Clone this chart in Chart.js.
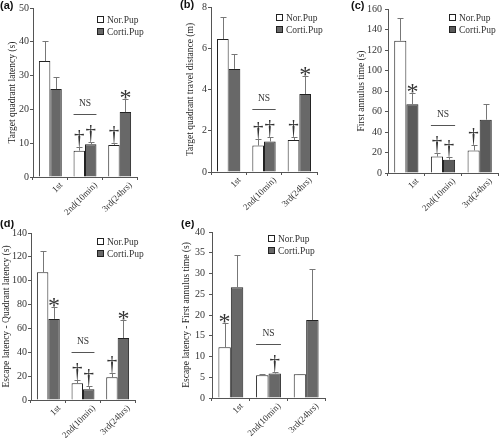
<!DOCTYPE html>
<html>
<head>
<meta charset="utf-8">
<script src="https://cdn.jsdelivr.net/npm/chart.js@4.4.1/dist/chart.umd.min.js"></script>
<style>
  body { margin: 0; background: #fff; }
  #wrap { position: relative; width: 500px; height: 438px; }
  canvas { position: absolute; }
</style>
</head>
<body>
<div id="wrap">
  <canvas id="pa" width="165" height="220" style="left:0;top:0"></canvas>
  <canvas id="pb" width="165" height="220" style="left:165px;top:0"></canvas>
  <canvas id="pc" width="170" height="220" style="left:330px;top:0"></canvas>
  <canvas id="pd" width="165" height="218" style="left:0;top:220px"></canvas>
  <canvas id="pe" width="170" height="218" style="left:165px;top:220px"></canvas>
</div>
<script>
const categories = ["1st", "2nd(10min)", "3rd(24hrs)"];
const seriesNames = ["Nor.Pup", "Corti.Pup"];

// (a) Target quadrant latency
const norA = [34.3, 7.8, 9.5];
const norErrA = [5.9, 1.2, 0.7];
const cortiA = [26.0, 9.7, 19.2];
const cortiErrA = [3.5, 0.8, 3.8];
const norMarkA = ["", "†", "†"];
const cortiMarkA = ["", "†", "*"];
const ticksA = [0, 10, 20, 30, 40, 50];

// (b) Target quadrant travel distance
const norB = [6.45, 1.28, 1.55];
const norErrB = [1.05, 0.3, 0.17];
const cortiB = [5.0, 1.48, 3.78];
const cortiErrB = [0.72, 0.24, 0.87];
const norMarkB = ["", "†", "†"];
const cortiMarkB = ["", "†", "*"];
const ticksB = [0, 2, 4, 6, 8];

// (c) First annulus time
const norC = [129, 16, 22];
const norErrC = [22, 4, 5];
const cortiC = [67, 13, 52];
const cortiErrC = [11, 3, 15];
const norMarkC = ["", "†", "†"];
const cortiMarkC = ["*", "†", ""];
const ticksC = [0, 20, 40, 60, 80, 100, 120, 140, 160];

// (d) Escape latency - Quadrant latency
const norD = [107, 14, 19];
const norErrD = [18, 3, 4];
const cortiD = [68, 9, 52];
const cortiErrD = [10, 2.5, 15];
const norMarkD = ["", "†", "†"];
const cortiMarkD = ["*", "†", "*"];
const ticksD = [0, 20, 40, 60, 80, 100, 120, 140];

// (e) Escape latency - First annulus time
const norE = [12.2, 5.5, 5.7];
const norErrE = [5.8, 0.2, 0.2];
const cortiE = [26.7, 5.9, 18.8];
const cortiErrE = [7.8, 0.3, 12.2];
const norMarkE = ["*", "", ""];
const cortiMarkE = ["", "†", ""];
const ticksE = [0, 5, 10, 15, 20, 25, 30, 35, 40];

const SERIF = '"Liberation Serif", "Times New Roman", serif';
const FS = 9.5;

// error bars, significance marks, NS bracket, legend and panel letter
const marksPlugin = {
  id: "marks",
  afterDatasetsDraw(chart, args, o) {
    const ctx = chart.ctx;
    const y = chart.scales.y;
    const area = chart.chartArea;
    ctx.save();
    let nsTop = Infinity, nsL = Infinity, nsR = -Infinity;
    chart.data.datasets.forEach((ds, di) => {
      const meta = chart.getDatasetMeta(di);
      meta.data.forEach((bar, i) => {
        const top = Math.round(y.getPixelForValue(ds.data[i] + ds.err[i]));
        const x = Math.round(bar.x) + 0.5;
        ctx.strokeStyle = "#777";
        ctx.lineWidth = 1;
        ctx.beginPath();
        ctx.moveTo(x, bar.y);
        ctx.lineTo(x, top);
        ctx.moveTo(x - 3, top + 0.5);
        ctx.lineTo(x + 3, top + 0.5);
        ctx.stroke();
        const m = ds.marks[i];
        ctx.fillStyle = "#333";
        ctx.textAlign = "center";
        ctx.textBaseline = "alphabetic";
        if (m === "†") {
          ctx.font = "21px " + SERIF;
          ctx.fillText(m, bar.x, top - 3);
        } else if (m === "*") {
          ctx.font = "24px " + SERIF;
          ctx.fillText(m, bar.x, top + 6);
        }
        if (i === 1) {
          nsTop = Math.min(nsTop, top);
          nsL = Math.min(nsL, bar.x - bar.width / 2);
          nsR = Math.max(nsR, bar.x + bar.width / 2);
        }
      });
    });
    // NS bracket over the 2nd trial
    const ly = Math.round(nsTop - 28) + 0.5;
    ctx.strokeStyle = "#555";
    ctx.beginPath();
    ctx.moveTo(nsL, ly);
    ctx.lineTo(nsR, ly);
    ctx.stroke();
    ctx.fillStyle = "#333";
    ctx.font = FS + "px " + SERIF;
    ctx.textAlign = "center";
    ctx.textBaseline = "middle";
    ctx.fillText("NS", (nsL + nsR) / 2, ly - 11);

    // legend
    const lx = area.right - o.legendRight;
    chart.data.datasets.forEach((ds, di) => {
      const ry = area.top + o.legendTop + di * 12;
      ctx.fillStyle = ds.backgroundColor;
      ctx.fillRect(lx, ry - 3, 7, 7);
      ctx.strokeStyle = "#222";
      ctx.strokeRect(lx + 0.5, ry - 2.5, 6, 6);
      ctx.fillStyle = "#333";
      ctx.font = FS + "px " + SERIF;
      ctx.textAlign = "left";
      ctx.textBaseline = "middle";
      ctx.fillText(ds.label, lx + 10, ry + 1);
    });

    // panel letter
    ctx.fillStyle = "#111";
    ctx.font = 'bold 11px "Liberation Sans", Arial, sans-serif';
    ctx.textAlign = "left";
    ctx.textBaseline = "middle";
    ctx.fillText(o.letter, o.letterX, o.letterY);
    ctx.restore();
  }
};

function makePanel(id, p) {
  const canvas = document.getElementById(id);
  const W = canvas.width, H = canvas.height;
  return new Chart(canvas, {
    type: "bar",
    data: {
      labels: categories,
      datasets: [
        { label: seriesNames[0], data: p.nor, err: p.norErr, marks: p.norMark,
          backgroundColor: "#ffffff", borderColor: "#222", borderWidth: 1 },
        { label: seriesNames[1], data: p.corti, err: p.cortiErr, marks: p.cortiMark,
          backgroundColor: p.gray, borderColor: "#222", borderWidth: 1 }
      ]
    },
    options: {
      responsive: false,
      animation: false,
      events: [],
      layout: { padding: { left: 0, top: p.top, right: W - p.right, bottom: 0 } },
      datasets: { bar: { categoryPercentage: 0.66, barPercentage: 1.0 } },
      plugins: {
        legend: { display: false },
        tooltip: { enabled: false },
        marks: { letter: p.letter, letterX: p.letterX, letterY: p.letterY,
                 legendRight: p.legendRight, legendTop: p.legendTop }
      },
      scales: {
        x: {
          grid: { drawOnChartArea: false, tickLength: 3, color: "#555" },
          border: { color: "#555" },
          ticks: { autoSkip: false, maxRotation: 45, minRotation: 45, padding: 0,
                   labelOffset: 11, color: "#333", font: { family: SERIF, size: 9 } },
          afterFit: s => { s.height = H - p.bottom; }
        },
        y: {
          min: p.ticks[0],
          max: p.ticks[p.ticks.length - 1],
          afterBuildTicks: s => { s.ticks = p.ticks.map(v => ({ value: v })); },
          grid: { drawOnChartArea: false, tickLength: 3, color: "#555" },
          border: { color: "#555" },
          ticks: { padding: p.tickPad, color: "#333", font: { family: SERIF, size: 10 } },
          title: { display: true, text: p.title, color: "#222",
                   font: { family: SERIF, size: FS }, padding: { top: p.titlePad, bottom: 0 } },
          afterFit: s => { s.width = p.left; }
        }
      }
    },
    plugins: [marksPlugin]
  });
}

makePanel("pa", { nor: norA, norErr: norErrA, corti: cortiA, cortiErr: cortiErrA,
  norMark: norMarkA, cortiMark: cortiMarkA, ticks: ticksA, gray: "#686868",
  title: "Target quadrant latency (s)", titlePad: 7, tickPad: 1,
  left: 33, right: 137, top: 8, bottom: 177,
  letter: "(a)", letterX: 0, letterY: 6, legendRight: 40, legendTop: 11 });

makePanel("pb", { nor: norB, norErr: norErrB, corti: cortiB, cortiErr: cortiErrB,
  norMark: norMarkB, cortiMark: cortiMarkB, ticks: ticksB, gray: "#686868",
  title: "Target quadrant travel distance (m)", titlePad: 20, tickPad: 1,
  left: 46, right: 152, top: 5, bottom: 172,
  letter: "(b)", letterX: 15, letterY: 5, legendRight: 41, legendTop: 10 });

makePanel("pc", { nor: norC, norErr: norErrC, corti: cortiC, cortiErr: cortiErrC,
  norMark: norMarkC, cortiMark: cortiMarkC, ticks: ticksC, gray: "#5a5a5a",
  title: "First annulus time (s)", titlePad: 26, tickPad: 3,
  left: 58, right: 168, top: 6, bottom: 173,
  letter: "(c)", letterX: 21, letterY: 6, legendRight: 49, legendTop: 8 });

makePanel("pd", { nor: norD, norErr: norErrD, corti: cortiD, cortiErr: cortiErrD,
  norMark: norMarkD, cortiMark: cortiMarkD, ticks: ticksD, gray: "#686868",
  title: "Escape latency - Quadrant latency (s)", titlePad: 1, tickPad: 1,
  left: 31, right: 135, top: 13, bottom: 180,
  letter: "(d)", letterX: 0, letterY: 4, legendRight: 38, legendTop: 8 });

makePanel("pe", { nor: norE, norErr: norErrE, corti: cortiE, cortiErr: cortiErrE,
  norMark: norMarkE, cortiMark: cortiMarkE, ticks: ticksE, gray: "#686868",
  title: "Escape latency - First annulus time (s)", titlePad: 16, tickPad: 4,
  left: 47, right: 160, top: 12, bottom: 178,
  letter: "(e)", letterX: 16, letterY: 4, legendRight: 57, legendTop: 6 });
</script>
</body>
</html>
